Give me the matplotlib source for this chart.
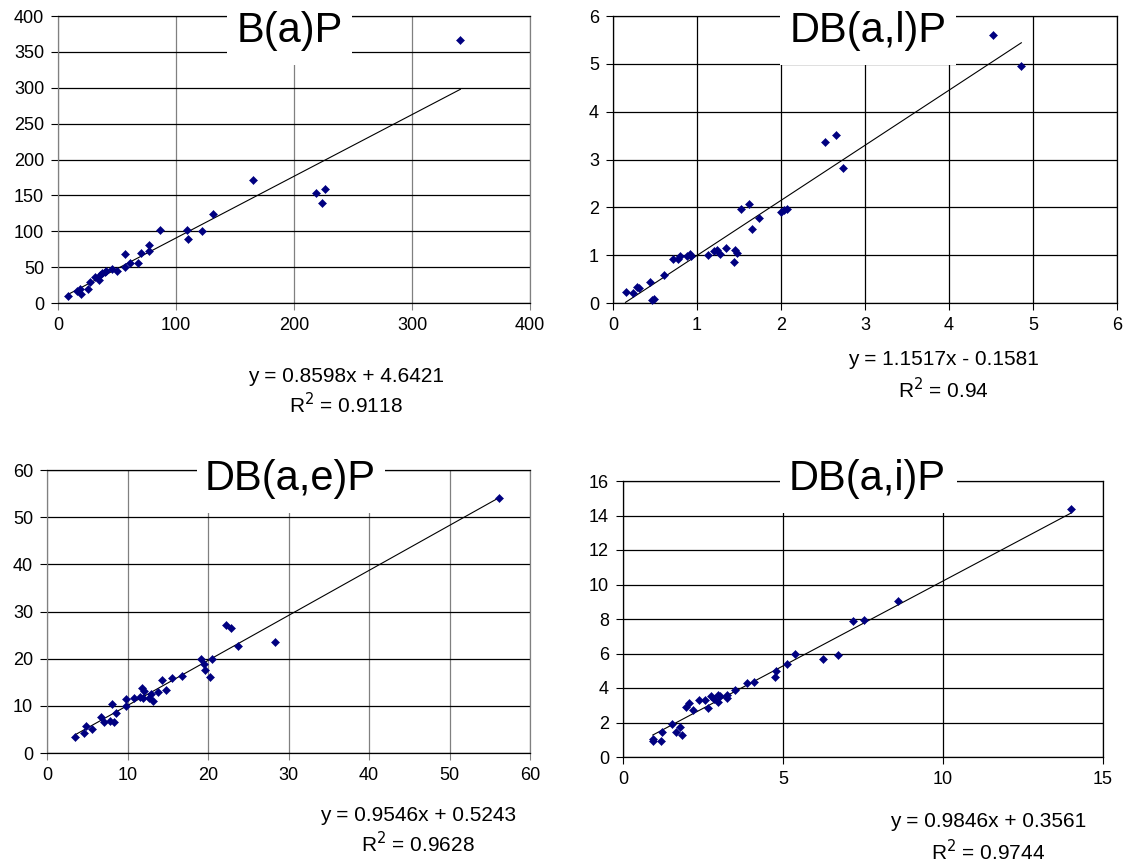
import matplotlib.pyplot as plt
import matplotlib as mpl
from matplotlib.patches import Rectangle

mpl.rcParams['font.family'] = ['Liberation Sans', 'DejaVu Sans']

W, H = 1125, 863

# B(a)P
bapX = [8.5, 16.1, 18.4, 19.8, 25.8, 27.5, 31.2, 34.6, 35.4, 37.7, 39.7, 41.1, 45.6, 49.6, 57.2, 57.2,
        60.9, 67.4, 70.0, 77.0, 77.0, 86.4, 109.0, 110.1, 122.1, 131.2, 165.4, 219.0, 224.1, 226.6, 341.0]
bapY = [10.2, 17.2, 19.5, 12.1, 19.5, 28.8, 36.2, 31.6, 39.0, 41.8, 43.6, 44.1, 47.3, 44.1, 68.2, 50.1,
        55.7, 55.2, 69.6, 80.7, 71.9, 101.2, 101.2, 89.1, 100.2, 123.9, 171.2, 153.1, 139.2, 158.7, 366.5]

# DB(a,l)P
dbalX = [0.149, 0.236, 0.286, 0.306, 0.439, 0.46, 0.493, 0.605, 0.712, 0.774, 0.803, 0.886, 0.919, 0.928,
         1.135, 1.197, 1.238, 1.271, 1.346, 1.441, 1.453, 1.478, 1.52, 1.619, 1.652, 1.739, 2.004, 2.037,
         2.066, 2.526, 2.658, 2.741, 4.526, 4.861]
dbalY = [0.223, 0.202, 0.334, 0.313, 0.438, 0.07, 0.09, 0.585, 0.919, 0.919, 0.974, 0.988, 1.03, 0.974,
         1.009, 1.079, 1.113, 1.023, 1.148, 0.856, 1.113, 1.044, 1.962, 2.074, 1.545, 1.775, 1.9, 1.935,
         1.962, 3.361, 3.514, 2.818, 5.602, 4.955]

# DB(a,e)P
dbaeX = [3.5, 4.58, 4.87, 5.62, 6.74, 7.11, 7.85, 8.06, 8.35, 8.6, 9.8, 9.84, 10.83, 11.57, 11.78, 12.07,
         11.98, 12.69, 12.9, 13.2, 13.8, 14.3, 14.8, 15.5, 16.8, 19.1, 19.5, 19.6, 20.2, 20.5, 22.2, 22.85,
         23.7, 28.3, 56.1]
dbaeY = [3.3, 4.15, 5.7, 5.06, 7.6, 6.47, 6.68, 10.34, 6.47, 8.44, 9.99, 11.46, 11.6, 11.95, 13.7, 13.2,
         11.6, 11.6, 12.5, 11.1, 12.9, 15.4, 13.4, 15.8, 16.3, 19.9, 18.8, 17.5, 16.2, 20.0, 27.1, 26.6,
         22.7, 23.6, 54.0]

# DB(a,i)P
dbaiX = [0.93, 0.94, 1.18, 1.22, 1.53, 1.66, 1.78, 1.84, 1.97, 2.05, 2.19, 2.36, 2.57, 2.66, 2.76, 2.83,
         2.96, 2.97, 3.04, 3.25, 3.25, 3.49, 3.88, 4.08, 4.76, 4.79, 5.13, 5.36, 6.25, 6.71, 7.19, 7.53,
         8.59, 13.99]
dbaiY = [0.95, 1.06, 0.95, 1.47, 1.89, 1.47, 1.76, 1.29, 2.92, 3.15, 2.72, 3.28, 3.28, 2.82, 3.53, 3.34,
         3.59, 3.2, 3.53, 3.59, 3.4, 3.88, 4.27, 4.32, 4.65, 4.98, 5.42, 5.95, 5.68, 5.89, 7.88, 7.93,
         9.03, 14.35]

titles = ["B(a)P", "DB(a,l)P", "DB(a,e)P", "DB(a,i)P"]
slopes = [0.8598, 1.1517, 0.9546, 0.9846]
intercepts = [4.6421, -0.1581, 0.5243, 0.3561]
equations = ["y = 0.8598x + 4.6421", "y = 1.1517x - 0.1581", "y = 0.9546x + 0.5243", "y = 0.9846x + 0.3561"]
r2Labels = ["R$^2$ = 0.9118", "R$^2$ = 0.94", "R$^2$ = 0.9628", "R$^2$ = 0.9744"]
xTicks = [[0, 100, 200, 300, 400], [0, 1, 2, 3, 4, 5, 6], [0, 10, 20, 30, 40, 50, 60], [0, 5, 10, 15]]
yTicks = [list(range(0, 401, 50)), [0, 1, 2, 3, 4, 5, 6], [0, 10, 20, 30, 40, 50, 60], list(range(0, 17, 2))]
xsAll = [bapX, dbalX, dbaeX, dbaiX]
ysAll = [bapY, dbalY, dbaeY, dbaiY]

# pixel layout: (left, right, top, bottom) of the plot areas
areas = [(58, 530, 16, 303), (613, 1117, 16, 303), (47, 530, 470, 753), (623, 1103, 481, 757)]
# white boxes behind the titles (left, right, top, bottom)
titleBoxes = [(227, 352, 0, 65), (780, 956, 0, 65), (197, 385, 440, 513), (780, 957, 440, 513)]
titlePos = [(290, 42), (868, 42), (290, 490), (867, 490)]
eqPos = [(346, 382, 413), (943, 365, 398), (418, 821, 852), (988, 827, 860)]
# panels 1 and 3 have grey vertical gridlines
vertColors = ['#808080', 'black', '#808080', 'black']

fig = plt.figure(figsize=(W / 100, H / 100), dpi=100)

def fx(x):
    return x / W

def fy(y):
    return 1 - y / H

for i in range(4):
    l, r, t, b = areas[i]
    ax = fig.add_axes([fx(l), fy(b), (r - l) / W, (b - t) / H])
    xs, ys = xsAll[i], ysAll[i]
    ax.plot(xs, ys, linestyle='none', marker='D', markersize=3.6, color='#000080',
            markeredgewidth=0.4, zorder=3, clip_on=False)
    # trendline over the range of the data
    x0, x1 = min(xs), max(xs)
    ax.plot([x0, x1], [slopes[i] * x0 + intercepts[i], slopes[i] * x1 + intercepts[i]],
            color='black', linewidth=0.8, zorder=2)
    ax.set_xlim(xTicks[i][0], xTicks[i][-1])
    ax.set_ylim(yTicks[i][0], yTicks[i][-1])
    ax.set_xticks(xTicks[i])
    ax.set_yticks(yTicks[i])
    ax.tick_params(axis='both', labelsize=13, length=5, width=0.8, pad=5)
    ax.tick_params(axis='x', color=vertColors[i])
    ax.xaxis.grid(True, color=vertColors[i], linewidth=0.9)
    ax.yaxis.grid(True, color='black', linewidth=0.9)
    ax.set_axisbelow(True)
    for side in ['left', 'right']:
        ax.spines[side].set_color(vertColors[i])
        ax.spines[side].set_linewidth(0.9)
    for side in ['top', 'bottom']:
        ax.spines[side].set_color('black')
        ax.spines[side].set_linewidth(0.9)

    bl, br, bt, bb = titleBoxes[i]
    fig.add_artist(Rectangle((fx(bl), fy(bb)), (br - bl) / W, (bb - bt) / H,
                             transform=fig.transFigure, facecolor='white', edgecolor='none', zorder=5))
    tx, ty = titlePos[i]
    fig.text(fx(tx), fy(ty), titles[i], fontsize=30, ha='center', va='baseline', zorder=6)

    ex, ey1, ey2 = eqPos[i]
    fig.text(fx(ex), fy(ey1), equations[i], fontsize=15, ha='center', va='baseline')
    fig.text(fx(ex), fy(ey2), r2Labels[i], fontsize=15, ha='center', va='baseline')

plt.savefig("out.png", dpi=100)
